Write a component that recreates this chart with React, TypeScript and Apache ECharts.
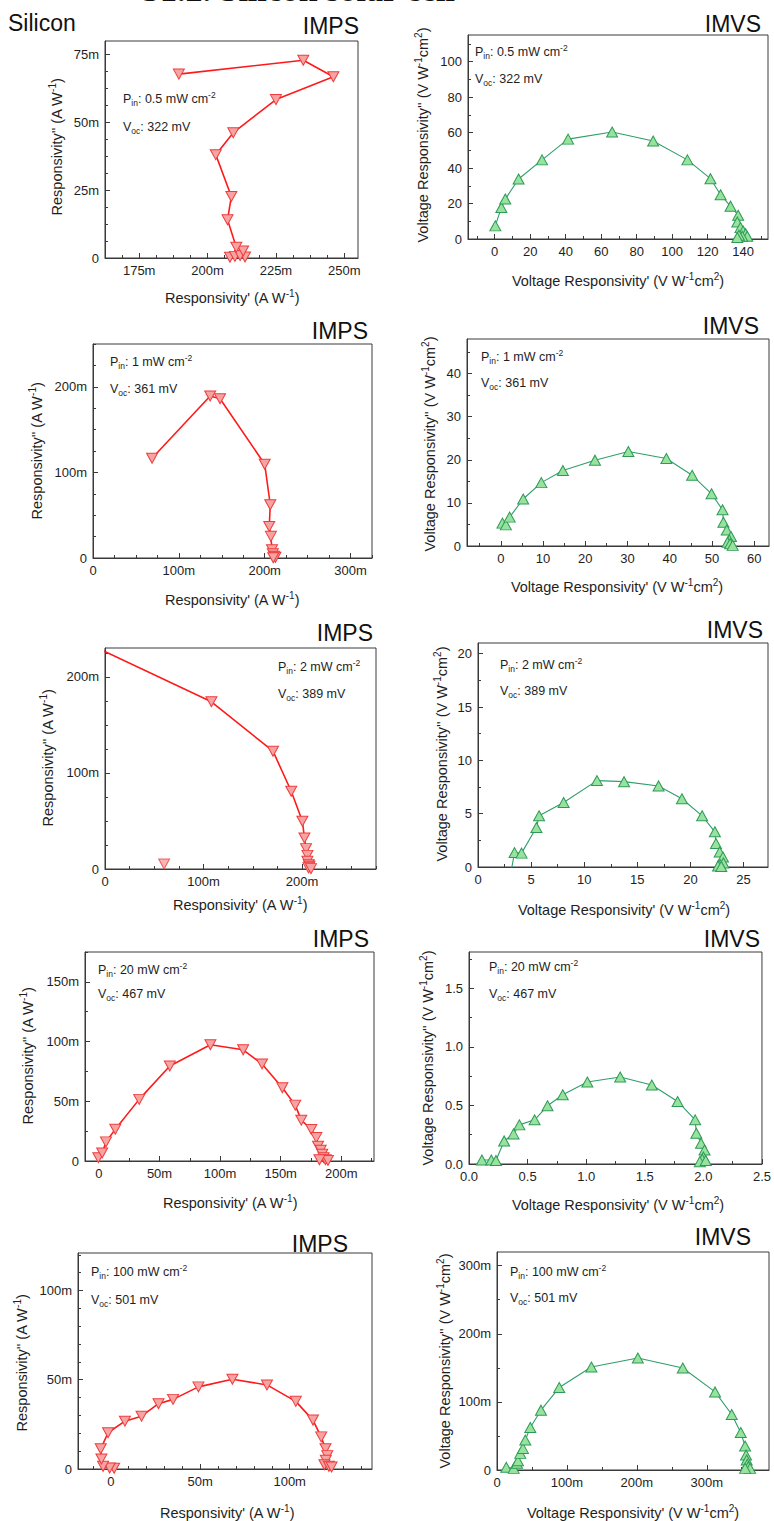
import React, { useEffect, useRef } from "react";
import * as echarts from "echarts";

const FONT = "'Liberation Sans', Arial, Helvetica, sans-serif";

// ---------- series values (IMPS in "m" units of A W^-1; IMVS in V W^-1 cm^2, last panel in "m") ----------
const imps05X = [208.2, 210, 213.7, 211.9, 213, 210.5, 207.3, 208.7, 203, 209.4, 225, 246, 235, 189.5];
const imps05Y = [0.3, 0.6, 0.4, 0.9, 2.6, 4.0, 14.1, 22.7, 38.1, 46.2, 58.4, 66.8, 72.9, 67.8];

const imvs05X = [0.4, 3.8, 6, 13.5, 26.7, 41.4, 66.2, 89.3, 108.6, 121.6, 127.3, 132.9, 137.2, 136.7, 138.5, 140, 141.4, 142.3, 139.5, 137.6, 136.7];
const imvs05Y = [7.4, 17.8, 22.5, 33.8, 44.6, 56.3, 60.3, 55.2, 44.6, 34, 24.9, 18.5, 13.4, 9.6, 6.4, 4.5, 3, 1.5, 1.5, 2.1, 0.8];

const imps1X = [68.8, 136.5, 148, 200, 206.5, 205.3, 207.2, 208.5, 209.5, 211, 212.5, 210];
const imps1Y = [116.5, 189.2, 186, 109.6, 62.2, 36.9, 25.3, 9.7, 5, 2, 0.8, 0.3];

const imvs1X = [0.4, 1.2, 2.1, 5.3, 9.6, 14.7, 22.3, 30.2, 39.2, 45.3, 49.9, 52.5, 52.7, 53.5, 54.5, 54.1, 53.7, 54.3, 54.9];
const imvs1Y = [5.3, 4.9, 6.7, 10.9, 14.7, 17.5, 19.9, 21.9, 20.3, 16.4, 12.1, 8.4, 5.5, 3.7, 2.2, 1.4, 0.85, 0.5, 0.15];

const imps2X = [-20, 108, 170.5, 189, 200.3, 202.4, 204, 205.4, 205.4, 206.8, 207.5, 206.5, 209];
const imps2Y = [236, 174, 122.6, 80.9, 49.7, 32.3, 21.2, 14.2, 8, 4.5, 2.8, 1.2, 0.4];
const imps2StrayX = [60];
const imps2StrayY = [5.2];

const imvs2X = [3.1, 3.44, 4.1, 5.5, 5.75, 8.06, 11.2, 13.75, 17.0, 19.2, 21.1, 22.3, 22.4, 22.75, 23.06, 23.1, 22.8, 22.6, 22.9];
const imvs2Y = [-0.5, 1.35, 1.3, 3.7, 4.8, 6.05, 8.1, 8.0, 7.6, 6.4, 4.8, 3.3, 2.2, 1.4, 0.94, 0.38, 0.22, 0.1, 0.05];

const imps20X = [-0.5, 2.7, 5.8, 13.5, 33.2, 58.5, 92, 119, 134.6, 151.4, 162, 167, 175.3, 179.4, 180.8, 183, 184.3, 185.4, 187, 189, 182];
const imps20Y = [2.8, 6.7, 16, 26.6, 51.6, 79.6, 97.3, 93.1, 81.3, 61.4, 46.8, 34.2, 26.4, 19.6, 12.3, 9, 5.6, 2.8, 1.1, 0.5, 1.1];

const imvs20X = [0.11, 0.19, 0.23, 0.30, 0.38, 0.43, 0.56, 0.67, 0.80, 1.01, 1.29, 1.56, 1.78, 1.93, 1.94, 1.98, 2.01, 2.0, 1.99, 1.97, 2.02];
const imvs20Y = [0.034, 0.034, 0.03, 0.197, 0.257, 0.334, 0.377, 0.497, 0.591, 0.70, 0.743, 0.674, 0.534, 0.377, 0.263, 0.177, 0.12, 0.06, 0.04, 0.02, 0.03];

const imps100X = [1.9, -0.6, -4.3, -5.2, -5.6, -1.5, 7.9, 17.2, 26.7, 34.8, 49, 68, 87.3, 103.4, 113, 117.6, 120, 121, 120.2, 119.4, 121.9, 123.4];
const imps100Y = [0.4, 0.6, 1.5, 5.6, 11.3, 20.3, 26.8, 29.6, 36.6, 39, 46, 50.3, 47.1, 37.9, 27.4, 18, 11.3, 7.5, 4.9, 2.4, 1.5, 1.1];

const imvs100X = [13.3, 23.8, 28.6, 30, 33.3, 37.1, 40.5, 47.6, 62.9, 89, 135, 201.4, 265.7, 311.9, 335.7, 348.6, 354.8, 356.2, 357.1, 358, 359.5, 361.9, 354.8];
const imvs100Y = [3.9, 2.4, 9.8, 13.7, 24.4, 31.7, 43.9, 62.4, 87.8, 121, 151.2, 164.4, 149.8, 114.6, 81.5, 55.1, 35.1, 22, 14.6, 8.3, 4.9, 2.4, 2.4];

// ---------- text labels ----------
const pinLabels = ["0.5", "1", "2", "20", "100"];
const vocLabels = ["322", "361", "389", "467", "501"];
const mainTitle = "S1.2. Silicon solar cell";
const sampleName = "Silicon";

// ---------- tick values ----------
const ticksImps05X = [175, 200, 225, 250];
const ticksImps05Y = [0, 25, 50, 75];
const ticksImvs05X = [0, 20, 40, 60, 80, 100, 120, 140];
const ticksImvs05Y = [0, 20, 40, 60, 80, 100];
const ticksImps1X = [0, 100, 200, 300];
const ticksImps1Y = [0, 100, 200];
const ticksImvs1X = [0, 10, 20, 30, 40, 50, 60];
const ticksImvs1Y = [0, 10, 20, 30, 40];
const ticksImps2X = [0, 100, 200];
const ticksImps2Y = [0, 100, 200];
const ticksImvs2X = [0, 5, 10, 15, 20, 25];
const ticksImvs2Y = [0, 5, 10, 15, 20];
const ticksImps20X = [0, 50, 100, 150, 200];
const ticksImps20Y = [0, 50, 100, 150];
const ticksImvs20X = [0, 0.5, 1.0, 1.5, 2.0, 2.5];
const ticksImvs20Y = [0, 0.5, 1.0, 1.5];
const ticksImps100X = [0, 50, 100];
const ticksImps100Y = [0, 50, 100];
const ticksImvs100X = [0, 100, 200, 300];
const ticksImvs100Y = [0, 100, 200, 300];

function steps(a: number, b: number, s: number) {
  const out: number[] = [];
  for (let v = a; v <= b + 1e-9; v += s) out.push(+v.toFixed(6));
  return out;
}

type Panel = {
  kind: "IMPS" | "IMVS";
  xs: number[]; ys: number[];
  box: [number, number, number, number];
  xr: [number, number]; yr: [number, number];
  xMaj: number[]; yMaj: number[];
  xMin: number[]; yMin: number[];
  xu: string; yu: string;
  title: [number, number];
  ann: [number, number, number];
  ylab: [number, number];
  xlab: [number, number];
  pin: number;
};

const panels: Panel[] = [
  { kind: "IMPS", xs: imps05X, ys: imps05Y, box: [105, 41, 358, 258], xr: [162.5, 255], yr: [0, 80],
    xMaj: ticksImps05X, yMaj: ticksImps05Y, xMin: steps(162.5, 255, 6.25), yMin: steps(0, 80, 6.25),
    xu: "m", yu: "m", title: [359, 26], ann: [123, 99, 127], ylab: [57, 147], xlab: [232, 298], pin: 0 },
  { kind: "IMVS", xs: imvs05X, ys: imvs05Y, box: [468, 35, 768, 239], xr: [-15, 154], yr: [0, 115],
    xMaj: ticksImvs05X, yMaj: ticksImvs05Y, xMin: steps(-10, 150, 10), yMin: steps(0, 110, 10),
    xu: "", yu: "", title: [761, 24], ann: [475, 52, 79], ylab: [423, 135], xlab: [618, 281], pin: 0 },
  { kind: "IMPS", xs: imps1X, ys: imps1Y, box: [93, 344, 372, 558], xr: [0, 325], yr: [0, 250],
    xMaj: ticksImps1X, yMaj: ticksImps1Y, xMin: steps(0, 325, 25), yMin: steps(0, 250, 25),
    xu: "m", yu: "m", title: [368, 331], ann: [110, 362, 389], ylab: [37, 451], xlab: [232, 600], pin: 1 },
  { kind: "IMVS", xs: imvs1X, ys: imvs1Y, box: [467, 339, 769, 546], xr: [-8, 63.5], yr: [0, 48],
    xMaj: ticksImvs1X, yMaj: ticksImvs1Y, xMin: steps(-5, 60, 5), yMin: steps(0, 45, 5),
    xu: "", yu: "", title: [759, 326], ann: [481, 357, 383], ylab: [430, 444], xlab: [617, 587], pin: 1 },
  { kind: "IMPS", xs: imps2X, ys: imps2Y, box: [105, 648, 376, 869], xr: [0, 275], yr: [0, 230],
    xMaj: ticksImps2X, yMaj: ticksImps2Y, xMin: steps(0, 275, 25), yMin: steps(0, 225, 25),
    xu: "m", yu: "m", title: [373, 633], ann: [278, 667, 694], ylab: [48, 758], xlab: [240, 905], pin: 2 },
  { kind: "IMVS", xs: imvs2X, ys: imvs2Y, box: [478, 643, 768, 867], xr: [0, 27.3], yr: [0, 21],
    xMaj: ticksImvs2X, yMaj: ticksImvs2Y, xMin: steps(0, 25, 2.5), yMin: steps(0, 20, 2.5),
    xu: "", yu: "", title: [763, 630], ann: [500, 665, 691], ylab: [442, 754], xlab: [624, 910], pin: 2 },
  { kind: "IMPS", xs: imps20X, ys: imps20Y, box: [85, 952, 374, 1161], xr: [-11.5, 227], yr: [0, 175],
    xMaj: ticksImps20X, yMaj: ticksImps20Y, xMin: steps(0, 225, 25), yMin: steps(0, 175, 25),
    xu: "m", yu: "m", title: [369, 939], ann: [98, 970, 994], ylab: [28, 1056], xlab: [230, 1203], pin: 3 },
  { kind: "IMVS", xs: imvs20X, ys: imvs20Y, box: [469, 952, 769, 1164], xr: [0, 2.5], yr: [0, 1.81],
    xMaj: ticksImvs20X, yMaj: ticksImvs20Y, xMin: steps(0, 2.5, 0.25), yMin: steps(0, 1.75, 0.25),
    xu: "dec", yu: "dec", title: [760, 939], ann: [489, 967, 994], ylab: [428, 1058], xlab: [618, 1205], pin: 3 },
  { kind: "IMPS", xs: imps100X, ys: imps100Y, box: [78, 1253, 372, 1469], xr: [-18.3, 146], yr: [0, 121],
    xMaj: ticksImps100X, yMaj: ticksImps100Y, xMin: steps(-10, 140, 10), yMin: steps(0, 120, 10),
    xu: "m", yu: "m", title: [348, 1244], ann: [91, 1272, 1300], ylab: [22, 1363], xlab: [227, 1513], pin: 4 },
  { kind: "IMVS", xs: imvs100X, ys: imvs100Y, box: [497, 1252, 769, 1470], xr: [0, 389], yr: [0, 320],
    xMaj: ticksImvs100X, yMaj: ticksImvs100Y, xMin: steps(0, 350, 50), yMin: steps(0, 300, 50),
    xu: "m", yu: "m", title: [751, 1237], ann: [510, 1272, 1298], ylab: [445, 1361], xlab: [633, 1513], pin: 4 },
];

const AX = "#3a3a3a";
const TXT = "#1e1e1e";

function fmt(u: string) {
  return (v: number) => {
    if (u === "m") return v === 0 ? "0" : `${v}m`;
    if (u === "dec") return v.toFixed(1);
    return String(v);
  };
}

function buildOption() {
  const grid: any[] = [];
  const xAxis: any[] = [];
  const yAxis: any[] = [];
  const series: any[] = [];
  const graphic: any[] = [];

  const labelStyle = { color: TXT, fontSize: 13, fontFamily: FONT };

  panels.forEach((p, i) => {
    const [l, t, r, b] = p.box;
    grid.push({ left: l, top: t, width: r - l, height: b - t, show: true, borderColor: AX, borderWidth: 1, backgroundColor: "transparent" });
    const inX = (v: number) => v >= p.xr[0] - 1e-9 && v <= p.xr[1] + 1e-9;
    const inY = (v: number) => v >= p.yr[0] - 1e-9 && v <= p.yr[1] + 1e-9;
    xAxis.push({
      type: "value", gridIndex: i, position: "bottom", min: p.xr[0], max: p.xr[1],
      axisLine: { show: true, onZero: false, lineStyle: { color: AX, width: 1 } },
      axisTick: { show: true, inside: true, length: 5, customValues: p.xMaj, lineStyle: { color: AX } },
      axisLabel: { show: true, customValues: p.xMaj, formatter: fmt(p.xu), margin: 6, ...labelStyle },
      splitLine: { show: false },
    });
    xAxis.push({
      type: "value", gridIndex: i, position: "bottom", min: p.xr[0], max: p.xr[1],
      axisLine: { show: false, onZero: false },
      axisTick: { show: true, inside: true, length: 3, customValues: p.xMin.filter(inX), lineStyle: { color: AX } },
      axisLabel: { show: false },
      splitLine: { show: false },
    });
    yAxis.push({
      type: "value", gridIndex: i, position: "left", min: p.yr[0], max: p.yr[1],
      axisLine: { show: true, onZero: false, lineStyle: { color: AX, width: 1 } },
      axisTick: { show: true, inside: true, length: 5, customValues: p.yMaj, lineStyle: { color: AX } },
      axisLabel: { show: true, customValues: p.yMaj, formatter: fmt(p.yu), margin: 6, ...labelStyle },
      splitLine: { show: false },
    });
    yAxis.push({
      type: "value", gridIndex: i, position: "left", min: p.yr[0], max: p.yr[1],
      axisLine: { show: false, onZero: false },
      axisTick: { show: true, inside: true, length: 3, customValues: p.yMin.filter(inY), lineStyle: { color: AX } },
      axisLabel: { show: false },
      splitLine: { show: false },
    });

    const imps = p.kind === "IMPS";
    const markerStyle = imps
      ? { color: "#f6a3a3", borderColor: "#f03c3c", borderWidth: 1 }
      : { color: "#97e39d", borderColor: "#2f9a58", borderWidth: 1 };
    const lineStyle = imps ? { color: "#ff1a1a", width: 1.6 } : { color: "#2f9e6c", width: 1.1 };
    series.push({
      type: "line", xAxisIndex: 2 * i, yAxisIndex: 2 * i,
      data: p.xs.map((x, k) => [x, p.ys[k]]),
      symbol: "triangle", symbolRotate: imps ? 180 : 0, symbolSize: [11, 10],
      showAllSymbol: true, clip: true,
      itemStyle: markerStyle, lineStyle, emphasis: { disabled: true }, silent: true,
    });
    if (i === 4) {
      series.push({
        type: "scatter", xAxisIndex: 2 * i, yAxisIndex: 2 * i,
        data: imps2StrayX.map((x, k) => [x, imps2StrayY[k]]),
        symbol: "triangle", symbolRotate: 180, symbolSize: [11, 10],
        itemStyle: markerStyle, silent: true,
      });
    }

    // panel title
    graphic.push({
      type: "text", x: p.title[0], y: p.title[1],
      style: { text: p.kind, font: `23px ${FONT}`, fill: "#111", textAlign: "right", textVerticalAlign: "middle" },
    });
    // annotations
    const rich = {
      a: { fontSize: 12.5, fontFamily: FONT, fill: TXT },
      s: { fontSize: 8.5, fontFamily: FONT, fill: TXT, padding: [7, 0, 0, 0] },
      p: { fontSize: 8.5, fontFamily: FONT, fill: TXT, padding: [0, 0, 8, 0] },
    };
    graphic.push({
      type: "text", x: p.ann[0], y: p.ann[1],
      style: { text: `{a|P}{s|in}{a|: ${pinLabels[p.pin]} mW cm}{p|-2}`, rich, textAlign: "left", textVerticalAlign: "middle" },
    });
    graphic.push({
      type: "text", x: p.ann[0], y: p.ann[2],
      style: { text: `{a|V}{s|oc}{a|: ${vocLabels[p.pin]} mV}`, rich, textAlign: "left", textVerticalAlign: "middle" },
    });
    // axis titles
    const rich2 = {
      n: { fontSize: 14.5, fontFamily: FONT, fill: TXT },
      p: { fontSize: 10, fontFamily: FONT, fill: TXT, padding: [0, 0, 9, 0] },
    };
    const yText = imps
      ? `{n|Responsivity'' (A W}{p|-1}{n|)}`
      : `{n|Voltage Responsivity'' (V W}{p|-1}{n|cm}{p|2}{n|)}`;
    const xText = imps
      ? `{n|Responsivity' (A W}{p|-1}{n|)}`
      : `{n|Voltage Responsivity' (V W}{p|-1}{n|cm}{p|2}{n|)}`;
    graphic.push({
      type: "text", x: p.ylab[0], y: p.ylab[1], rotation: Math.PI / 2,
      style: { text: yText, rich: rich2, textAlign: "center", textVerticalAlign: "middle" },
    });
    graphic.push({
      type: "text", x: p.xlab[0], y: p.xlab[1],
      style: { text: xText, rich: rich2, textAlign: "center", textVerticalAlign: "middle" },
    });
  });

  graphic.push({
    type: "text", x: 8, y: 23,
    style: { text: sampleName, font: `23px ${FONT}`, fill: "#111", textAlign: "left", textVerticalAlign: "middle" },
  });
  graphic.push({
    type: "text", x: 298, y: -11,
    style: { text: mainTitle, font: `bold 34px 'Liberation Serif', 'Times New Roman', serif`, fill: "#111", textAlign: "center", textVerticalAlign: "middle" },
  });

  return { animation: false, backgroundColor: "#ffffff", grid, xAxis, yAxis, series, graphic };
}

export default function App() {
  const ref = useRef<HTMLDivElement>(null);
  useEffect(() => {
    if (!ref.current) return;
    const chart = echarts.init(ref.current, undefined, { renderer: "svg" });
    chart.setOption(buildOption() as any);
    return () => chart.dispose();
  }, []);
  return <div ref={ref} style={{ position: "absolute", left: 0, top: 0, width: 774, height: 1521, background: "#fff" }} />;
}
